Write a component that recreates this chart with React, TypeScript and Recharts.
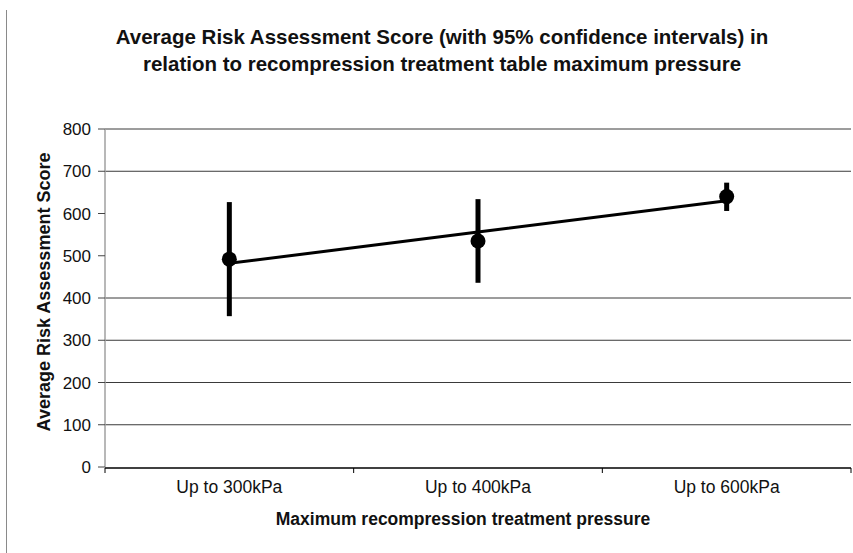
import { ComposedChart, Line, XAxis, YAxis, ErrorBar, ReferenceLine, Label } from "recharts";

const CATEGORIES = ["Up to 300kPa", "Up to 400kPa", "Up to 600kPa"];
const MEANS = [492, 535, 640];
const CI_LOW = [357, 436, 606];
const CI_HIGH = [627, 634, 673];
const TREND = [482, 556, 630];

const Y_TICKS = [0, 100, 200, 300, 400, 500, 600, 700, 800];
const GRID_LINES = [100, 200, 300, 400, 700, 800];
// category slots: label at slot centre, tick marks on slot edges
const EDGE_TICKS = [0, 1, 2, 3];
const LABEL_TICKS = [0.5, 1.5, 2.5];

const data = CATEGORIES.map((name, i) => ({
  name,
  pos: i + 0.5,
  mean: MEANS[i],
  trend: TREND[i],
  err: [MEANS[i] - CI_LOW[i], CI_HIGH[i] - MEANS[i]],
}));

const FONT = "'Liberation Sans', Arial, sans-serif";

export default function App() {
  return (
    <div
      style={{
        position: "absolute",
        left: 0,
        top: 0,
        width: 853,
        height: 553,
        background: "#fff",
        fontFamily: FONT,
      }}
    >
      <div
        style={{
          position: "absolute",
          left: 6,
          top: 10,
          width: 1,
          height: 543,
          background: "#8a8a8a",
        }}
      />
      <div
        style={{
          position: "absolute",
          left: 0,
          width: 884,
          top: 23,
          textAlign: "center",
          fontWeight: "bold",
          fontSize: 20.5,
          lineHeight: "27px",
          color: "#111",
        }}
      >
        Average Risk Assessment Score (with 95% confidence intervals) in
        <br />
        relation to recompression treatment table maximum pressure
      </div>
      <ComposedChart
        width={853}
        height={553}
        data={data}
        margin={{ top: 129, right: 2, bottom: 84, left: 60 }}
        style={{ position: "absolute", left: 0, top: 0 }}
      >
        {GRID_LINES.map((v) => (
          <ReferenceLine key={v} y={v} stroke="#3a3a3a" strokeWidth={1} />
        ))}
        <XAxis
          xAxisId="edge"
          dataKey="pos"
          type="number"
          domain={[0, 3]}
          ticks={EDGE_TICKS}
          interval={0}
          height={1}
          axisLine={{ stroke: "#000", strokeWidth: 1.5 }}
          tickSize={5}
          tickLine={{ stroke: "#000" }}
          tickFormatter={() => ""}
          allowDataOverflow
        />
        <XAxis
          xAxisId="cat"
          dataKey="pos"
          type="number"
          domain={[0, 3]}
          ticks={LABEL_TICKS}
          interval={0}
          allowDataOverflow
          height={1}
          tickSize={0}
          tickLine={false}
          tickMargin={14}
          axisLine={false}
          tickFormatter={(v: number) => CATEGORIES[Math.floor(v)]}
          tick={{ fill: "#111", fontSize: 17.5, fontFamily: FONT }}
        >
          <Label
            value="Maximum recompression treatment pressure"
            position="bottom"
            offset={45}
            dx={-15}
            style={{ fill: "#111", fontSize: 17.5, fontWeight: "bold", fontFamily: FONT }}
          />
        </XAxis>
        <YAxis
          width={45}
          domain={[0, 800]}
          ticks={Y_TICKS}
          interval={0}
          tickSize={7}
          tickMargin={7}
          axisLine={{ stroke: "#a0a0a0", strokeWidth: 1.5 }}
          tickLine={{ stroke: "#444" }}
          tick={{ fill: "#111", fontSize: 17, fontFamily: FONT }}
        >
          <Label
            content={({ viewBox }: any) => {
              const cy = viewBox.y + viewBox.height / 2 - 6;
              const cx = 44;
              return (
                <text
                  x={cx}
                  y={cy}
                  transform={`rotate(-90 ${cx} ${cy})`}
                  textAnchor="middle"
                  dominantBaseline="central"
                  style={{ fill: "#111", fontSize: 18, fontWeight: "bold", fontFamily: FONT }}
                >
                  Average Risk Assessment Score
                </text>
              );
            }}
          />
        </YAxis>
        <Line
          xAxisId="cat"
          type="linear"
          dataKey="trend"
          stroke="#000"
          strokeWidth={3}
          dot={false}
          activeDot={false}
          isAnimationActive={false}
        />
        <Line
          xAxisId="cat"
          type="linear"
          dataKey="mean"
          stroke="none"
          dot={{ r: 7.5, fill: "#000", stroke: "#000", strokeWidth: 0 }}
          activeDot={false}
          isAnimationActive={false}
        >
          <ErrorBar dataKey="err" width={0} strokeWidth={5} stroke="#000" direction="y" isAnimationActive={false} />
        </Line>
      </ComposedChart>
    </div>
  );
}
